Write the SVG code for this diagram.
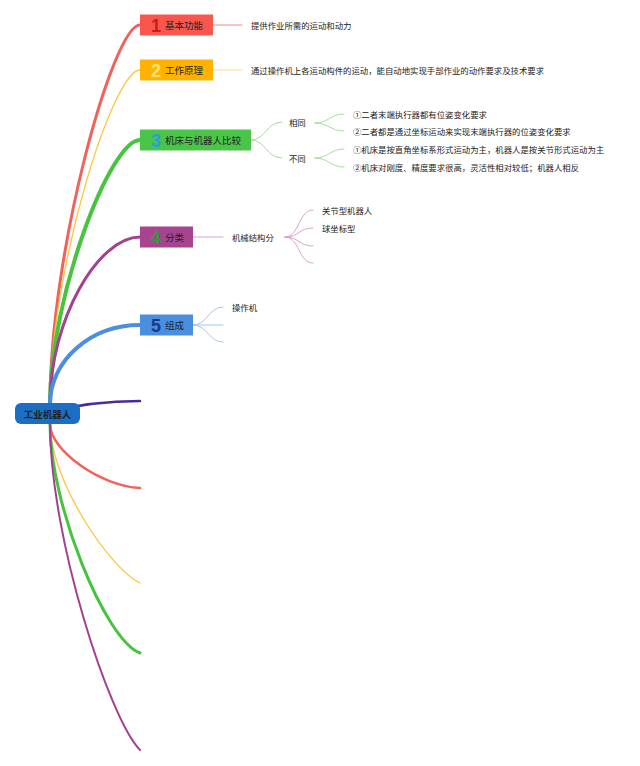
<svg xmlns="http://www.w3.org/2000/svg" width="640" height="766" viewBox="0 0 640 766">
<style>
.t{font-family:"Noto Sans CJK SC","Noto Sans",sans-serif;fill:#222;dominant-baseline:central}
.s{font-size:8.4px}
.n{font-size:9.5px}
.d{font-family:"Liberation Sans",Arial,sans-serif;font-weight:bold;font-size:18px;text-anchor:middle}
.c{fill:none;stroke-linecap:round}
</style>
<rect width="640" height="766" fill="#ffffff"/>
<g id="connectors">
  <path class="c" d="M50,404 C50,252 113,25 140,25" stroke="#F2625A" stroke-width="3"/>
  <path class="c" d="M50,404 C50,270 113,70 140,70" stroke="#FFC53D" stroke-width="1.3"/>
  <path class="c" d="M50,404 C50,298 110,140 140,140" stroke="#47C43F" stroke-width="4"/>
  <path class="c" d="M50,404 C50,320 98,237 140,237" stroke="#A3408F" stroke-width="3"/>
  <path class="c" d="M50,404 C50,360.5 90.5,325 140,325" stroke="#4A8EDF" stroke-width="4"/>
  <path class="c" d="M50,412 C80,404 110,401 140,401" stroke="#4A2B97" stroke-width="2.5"/>
  <path class="c" d="M50,424 C50,450 100,486 140,488" stroke="#F2625A" stroke-width="2.5"/>
  <path class="c" d="M50,424 C50,480 110,569 140,583" stroke="#FFC53D" stroke-width="1.3"/>
  <path class="c" d="M50,424 C50,504 105,640 140,653" stroke="#47C43F" stroke-width="3"/>
  <path class="c" d="M50,424 C50,538 110,720 140,750" stroke="#A3408F" stroke-width="2"/>
  <path class="c" d="M213,25 L242,25" stroke="#F08A86" stroke-width="1"/>
  <path class="c" d="M213,70 L242,70" stroke="#FFD88A" stroke-width="1"/>
  <path class="c" d="M251,140 C266,140 266,122 282,122" stroke="#A5DC9E" stroke-width="1"/>
  <path class="c" d="M251,140 C266,140 266,158 282,158" stroke="#A5DC9E" stroke-width="1"/>
  <path class="c" d="M315,123 C329,123 330,114 344,114" stroke="#A5DC9E" stroke-width="1"/>
  <path class="c" d="M315,123 C329,123 330,131 344,131" stroke="#A5DC9E" stroke-width="1"/>
  <path class="c" d="M315,158 C329,158 330,149 344,149" stroke="#A5DC9E" stroke-width="1"/>
  <path class="c" d="M315,158 C329,158 330,167 344,167" stroke="#A5DC9E" stroke-width="1"/>
  <path class="c" d="M193,237 L223,237" stroke="#D9A2CB" stroke-width="1"/>
  <path class="c" d="M285,237 C300,237 298,210 313,210" stroke="#D9A2CB" stroke-width="1"/>
  <path class="c" d="M285,237 C300,237 298,228 313,228" stroke="#D9A2CB" stroke-width="1"/>
  <path class="c" d="M285,237 C300,237 298,246 313,246" stroke="#D9A2CB" stroke-width="1"/>
  <path class="c" d="M285,237 C300,237 298,263 313,263" stroke="#D9A2CB" stroke-width="1"/>
  <path class="c" d="M193,325 C208,325 208,307 223,307" stroke="#A6C7EE" stroke-width="1"/>
  <path class="c" d="M193,325 L223,325" stroke="#A6C7EE" stroke-width="1"/>
  <path class="c" d="M193,325 C208,325 208,342 223,342" stroke="#A6C7EE" stroke-width="1"/>
</g>
<g id="root">
  <rect x="15" y="403" width="65" height="21" rx="6" fill="#1A6FC4"/>
  <text class="t n" x="47.5" y="413.5" text-anchor="middle" font-weight="bold" fill="#111">工业机器人</text>
</g>
<g id="node1">
  <rect x="140" y="14.5" width="73" height="21" fill="#F9564D"/>
  <text class="d" x="156" y="31.5" fill="#C81A1A">1</text>
  <text class="t n" x="165" y="25">基本功能</text>
</g>
<g id="node1a"><text class="t s" x="251" y="25">提供作业所需的运动和动力</text></g>
<g id="node2">
  <rect x="140" y="59.5" width="73" height="21" fill="#FFB300"/>
  <text class="d" x="156" y="76.5" fill="#FFE27A">2</text>
  <text class="t n" x="165" y="70">工作原理</text>
</g>
<g id="node2a"><text class="t s" x="251" y="70">通过操作机上各运动构件的运动，能自动地实现手部作业的动作要求及技术要求</text></g>
<g id="node3">
  <rect x="140" y="129.5" width="111" height="21" fill="#4BC44A"/>
  <text class="d" x="156" y="146.5" fill="#2E9BE0">3</text>
  <text class="t n" x="165" y="140">机床与机器人比较</text>
</g>
<g id="node3a"><text class="t s" x="289" y="122">相同</text></g>
<g id="node3b"><text class="t s" x="289" y="158">不同</text></g>
<g id="node3a1"><text class="t s" x="353" y="114">①二者末端执行器都有位姿变化要求</text></g>
<g id="node3a2"><text class="t s" x="353" y="131">②二者都是通过坐标运动来实现末端执行器的位姿变化要求</text></g>
<g id="node3b1"><text class="t s" x="353" y="149">①机床是按直角坐标系形式运动为主，机器人是按关节形式运动为主</text></g>
<g id="node3b2"><text class="t s" x="353" y="167">②机床对刚度、精度要求很高，灵活性相对较低；机器人相反</text></g>
<g id="node4">
  <rect x="140" y="226.5" width="53" height="21" fill="#A6448F"/>
  <text class="d" x="156" y="243.5" fill="#2F9A3A">4</text>
  <text class="t n" x="165" y="237">分类</text>
</g>
<g id="node4a"><text class="t s" x="232" y="237">机械结构分</text></g>
<g id="node4a1"><text class="t s" x="322" y="210">关节型机器人</text></g>
<g id="node4a2"><text class="t s" x="322" y="228">球坐标型</text></g>
<g id="node5">
  <rect x="140" y="314.5" width="53" height="21" fill="#4A8EDF"/>
  <text class="d" x="156" y="331.5" fill="#1B3A8A">5</text>
  <text class="t n" x="165" y="325">组成</text>
</g>
<g id="node5a"><text class="t s" x="232" y="307">操作机</text></g>
</svg>
